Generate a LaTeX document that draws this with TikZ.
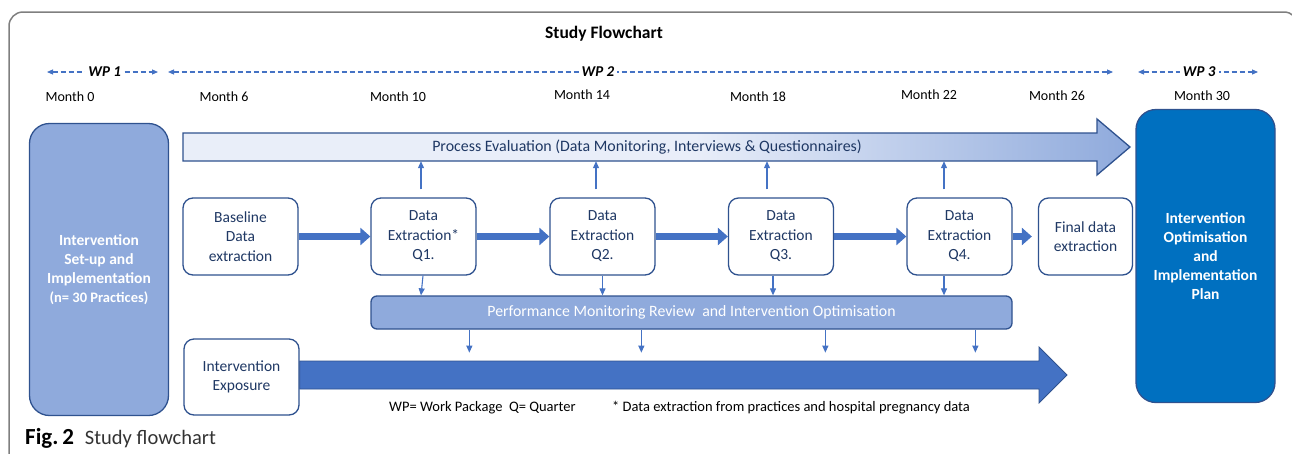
\documentclass[tikz,border=0pt]{standalone}
\usepackage{fontspec}
\setmainfont{Carlito}
\usetikzlibrary{arrows.meta,calc}
\definecolor{acc}{HTML}{4472C4}
\definecolor{accdark}{HTML}{2F528F}
\definecolor{lightb}{HTML}{8FAADC}
\definecolor{navy}{HTML}{1F3864}
\definecolor{rightblue}{HTML}{0070C0}
\definecolor{pale}{HTML}{E9EEF9}
\definecolor{framegray}{HTML}{7F7F7F}
\pgfdeclarehorizontalshading{peshade}{100bp}{color(0bp)=(pale); color(25bp)=(pale); color(52bp)=(pale); color(75bp)=(lightb); color(100bp)=(lightb)}
\begin{document}
\begin{tikzpicture}[x=1pt,y=-1pt,
  box/.style={draw=accdark, line width=1.3pt, rounded corners=10pt, fill=white, text=navy, align=center,
    font=\fontsize{15.5}{19.5}\selectfont, inner sep=0pt},
  bigbox/.style={draw=accdark, line width=1.3pt, rounded corners=20pt, text=white, align=center,
    font=\fontsize{15.5}{19}\selectfont\bfseries, inner sep=0pt},
  month/.style={font=\fontsize{14}{16}\selectfont, text=black},
  wp/.style={draw=acc, line width=1.1pt, dash pattern=on 5pt off 3pt,
    {Triangle[length=6pt,width=5pt]}-{Triangle[length=6pt,width=5pt]}},
  wplabel/.style={fill=white, font=\fontsize{15}{17}\selectfont\bfseries\itshape, text=black, inner sep=3pt},
  fat/.style={draw=acc, line width=7pt, -{Triangle[length=10pt,width=17pt]}},
  tarr/.style={draw=acc, line width=1.1pt, -{Triangle[length=7pt,width=6pt]}},
  note/.style={font=\fontsize{14.5}{16}\selectfont, text=black, anchor=west, inner sep=0pt}
]
\useasboundingbox (0,0) rectangle (1292,453);
% outer frame
\draw[framegray, line width=1.5pt, rounded corners=14pt] (9,470) -- (9,12) -- (1298,12) -- (1298,80);
% title
\node[font=\fontsize{17.5}{20}\selectfont\bfseries] (title) at (604,34) {Study Flowchart};
% WP arrows
\coordinate (w1a) at (47,72); \coordinate (w1b) at (158,72);
\coordinate (w2a) at (168,72); \coordinate (w2b) at (1113,72);
\coordinate (w3a) at (1138,72); \coordinate (w3b) at (1258,72);
\draw[wp] (w1a) -- node[wplabel, pos=0.52] (wp1) {WP 1} (w1b);
\draw[wp] (w2a) -- node[wplabel, pos=0.455] (wp2) {WP 2} (w2b);
\draw[wp] (w3a) -- node[wplabel, pos=0.51] (wp3) {WP 3} (w3b);
% months
\node[month] (m0) at (70,97) {Month 0};
\node[month] (m6) at (224,97) {Month 6};
\node[month] (m10) at (398,97) {Month 10};
\node[month] (m14) at (582,95) {Month 14};
\node[month] (m18) at (758,97) {Month 18};
\node[month] (m22) at (929,95) {Month 22};
\node[month] (m26) at (1057,96) {Month 26};
\node[month] (m30) at (1202,96) {Month 30};
% big side boxes
\node[bigbox, fill=lightb, minimum width=139pt, minimum height=292pt] (setup) at (99,269.5)
  {Intervention\\Set-up and\\Implementation\\{\fontsize{14.5}{17}\selectfont (n= 30 Practices)}};
\node[bigbox, fill=rightblue, minimum width=139pt, minimum height=293pt] (plan) at (1205.5,256)
  {Intervention\\Optimisation\\and\\Implementation\\Plan};
% process evaluation arrow
\shade[shading=peshade] (183,133) -- (1097,133) -- (1097,119) -- (1130,147) -- (1097,175) -- (1097,161) -- (183,161) -- cycle;
\draw[accdark, line width=1.3pt, line join=miter] (183,133) -- (1097,133) -- (1097,119) -- (1130,147) -- (1097,175) -- (1097,161) -- (183,161) -- cycle;
\node[minimum width=928pt, minimum height=28pt, inner sep=0pt, text=navy, font=\fontsize{15.9}{18}\selectfont] (pe) at (647,147)
  {Process Evaluation (Data Monitoring, Interviews \& Questionnaires)};
% data boxes
\node[box, minimum width=115pt, minimum height=77pt] (base) at (240.5,236.5) {Baseline\\Data\\extraction};
\node[box, minimum width=105pt, minimum height=77pt] (q1) at (423.5,236.5) {Data\\Extraction*\\Q1.};
\node[box, minimum width=105pt, minimum height=77pt] (q2) at (602.5,236.5) {Data\\Extraction\\Q2.};
\node[box, minimum width=105pt, minimum height=77pt] (q3) at (781,236.5) {Data\\Extraction\\Q3.};
\node[box, minimum width=105pt, minimum height=77pt] (q4) at (959.5,236.5) {Data\\Extraction\\Q4.};
\node[box, minimum width=94pt, minimum height=77pt] (fin) at (1085.5,236.5) {Final data\\extraction};
% fat arrows
\draw[fat] (base.east) -- (q1.west);
\draw[fat] (q1.east) -- (q2.west);
\draw[fat] (q2.east) -- (q3.west);
\draw[fat] (q3.east) -- (q4.west);
\draw[fat, shorten >=6pt] (q4.east) -- (fin.west);
% performance box
\node[draw=accdark, line width=1.3pt, rounded corners=6pt, fill=lightb, text=white, inner sep=0pt,
  minimum width=641pt, minimum height=33pt, font=\fontsize{15.8}{18}\selectfont] (perf) at (691.5,312.5)
  {Performance Monitoring Review\ \ and Intervention Optimisation};
% up arrows to process evaluation
\coordinate (u1) at ($(q1.north)+(-2.5,-8)$);
\coordinate (u2) at ($(q2.north)+(-6.5,-8)$);
\coordinate (u3) at ($(q3.north)+(-14,-8)$);
\coordinate (u4) at ($(q4.north)+(-15.5,-8)$);
\foreach \u in {u1,u2,u3,u4} \draw[tarr] (\u) -- (\u |- pe.south);
% down arrows to performance box
\draw[tarr] ($(q1.south)+(-0.5,0)$) -- ($(q1.south |- perf.north)+(-2.5,0)$);
\draw[tarr] (q2.south) -- (q2.south |- perf.north);
\coordinate (d3) at ($(q3.south)+(-8,0)$);
\coordinate (d4) at ($(q4.south)+(-15.5,0)$);
\draw[tarr] (d3) -- (d3 |- perf.north);
\draw[tarr] (d4) -- (d4 |- perf.north);
% intervention exposure
\node[box, minimum width=115pt, minimum height=76pt] (ie) at (241.5,377) {Intervention\\Exposure};
\filldraw[fill=acc, draw=accdark, line width=0.8pt, line join=miter]
  (ie.east |- 0,361) -- (1039,361) -- (1039,347) -- (1067,375) -- (1039,403) -- (1039,389) -- (ie.east |- 0,389) -- cycle;
\foreach \dx in {99,271,455,605}
  \draw[tarr] ($(perf.south west)+(\dx,0)$) -- ++(0,23);
% notes
\node[note] (n1) at (389,408) {WP= Work Package\ \ Q= Quarter};
\node[note] (n2) at (612,408) {* Data extraction from practices and hospital pregnancy data};
% caption
\node[anchor=west, inner sep=0pt, font=\fontsize{20.5}{24}\selectfont] (cap) at (25,438)
  {{\fontsize{23}{24}\selectfont\textbf{Fig.\,2}}\hspace{11pt}{\color[HTML]{333333}Study flowchart}};
\end{tikzpicture}
\end{document}
